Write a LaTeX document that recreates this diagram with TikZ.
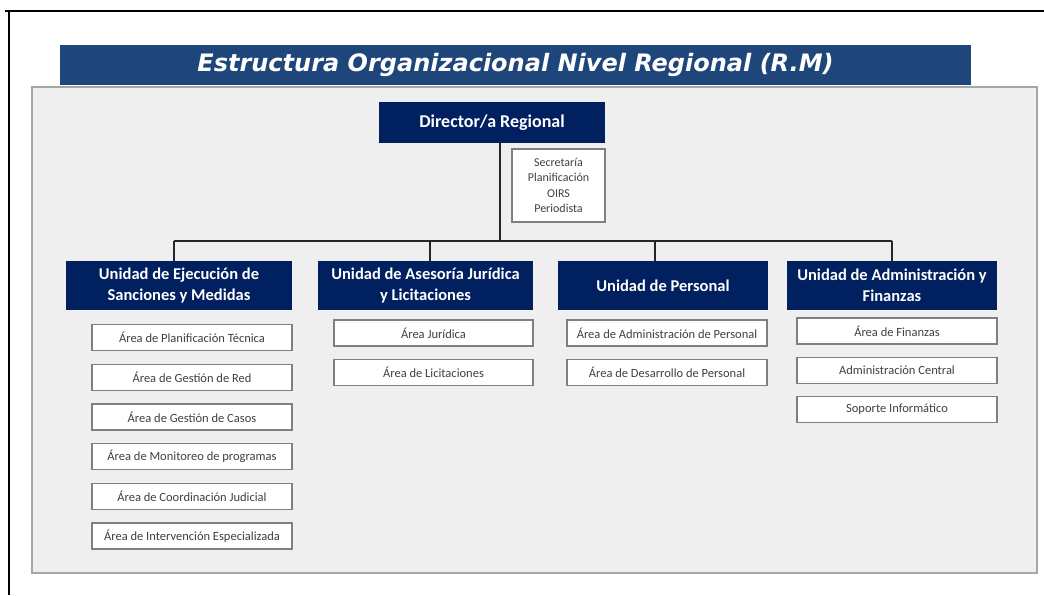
\documentclass[tikz,border=0pt]{standalone}
\usepackage{fontspec}
\setmainfont{Carlito}
\newfontfamily\titlefont{DejaVu Sans}
\usetikzlibrary{positioning}
\definecolor{azulTit}{RGB}{31,70,122}
\definecolor{azulUni}{RGB}{0,32,96}
\definecolor{grisFondo}{RGB}{239,239,239}
\definecolor{grisBorde}{RGB}{166,166,166}
\tikzset{
  Fondo/.style={draw=grisBorde, line width=2pt, fill=grisFondo, minimum width=1005pt, minimum height=486pt, inner sep=0pt},
  Titulo/.style={fill=azulTit, text=white, minimum width=911pt, minimum height=40pt, inner sep=0pt,
    font=\titlefont\bfseries\itshape\fontsize{24}{28}\selectfont},
  Jefe/.style={fill=azulUni, text=white, minimum width=226pt, minimum height=41pt, inner sep=0pt,
    font=\bfseries\fontsize{18}{21}\selectfont},
  Unidad/.style={fill=azulUni, text=white, align=center, minimum height=49pt, inner sep=0pt,
    font=\bfseries\fontsize{16.5}{21}\selectfont},
  Area/.style={draw=gray, line width=1.3pt, fill=white, text=black!75, minimum width=200pt, minimum height=26pt,
    inner sep=0pt, font=\fontsize{12.5}{14}\selectfont},
  Linea/.style={line width=2.2pt, black!85}
}

\begin{document}
\begin{tikzpicture}[x=1pt,y=-1pt]
\useasboundingbox (0,0) rectangle (1044,595);

%Marco
\draw[line width=2.5pt] (5,11) -- (1044,11);
\draw[line width=2.5pt] (9,11) -- (9,595);

%Fondo y titulo
\node[Fondo] (fondo) at (534.5,330) {};
\node[Titulo] (titulo) at (515.5,65) {Estructura Organizacional Nivel Regional (R.M)};

%Direccion
\node[Jefe] (dir) at (492,122.5) {Director/a Regional};
\node[Area, align=center, minimum width=93pt, minimum height=73pt, font=\fontsize{12}{15.5}\selectfont]
  (apoyo) at (558.5,185.5) {Secretaría\\Planificación\\OIRS\\Periodista};

%Unidades
\node[Unidad, minimum width=226pt] (u1) at (179,285.5) {Unidad de Ejecución de\\Sanciones y Medidas};
\node[Unidad, minimum width=215pt] (u2) at (425.5,285.5) {Unidad de Asesoría Jurídica\\y Licitaciones};
\node[Unidad, minimum width=210pt] (u3) at (663,285.5) {Unidad de Personal};
\node[Unidad, minimum width=210pt] (u4) at (892,285.5) {Unidad de Administración y\\Finanzas};

%Areas
\node[Area] (a11) at (192,337.5) {Área de Planificación Técnica};
\node[Area, below=12.4pt of a11] (a12) {Área de Gestión de Red};
\node[Area, below=12.4pt of a12] (a13) {Área de Gestión de Casos};
\node[Area, below=12.4pt of a13] (a14) {Área de Monitoreo de programas};
\node[Area, below=12.4pt of a14] (a15) {Área de Coordinación Judicial};
\node[Area, below=12.4pt of a15] (a16) {Área de Intervención Especializada};

\node[Area, minimum width=199pt] (a21) at (433.5,333) {Área Jurídica};
\node[Area, minimum width=199pt, below=12pt of a21] (a22) {Área de Licitaciones};

\node[Area] (a31) at (667,333) {Área de Administración de Personal};
\node[Area, below=12pt of a31] (a32) {Área de Desarrollo de Personal};

\node[Area] (a41) at (897,331) {Área de Finanzas};
\node[Area, below=12pt of a41] (a42) {Administración Central};
\node[Area, below=12pt of a42] (a43) {Soporte Informático};

%Lineas
\coordinate (tronco) at (500,241);
\coordinate (b1) at (174,241);
\coordinate (b2) at (430,241);
\coordinate (b3) at (655,241);
\coordinate (b4) at (892,241);
\draw[Linea] (dir.south -| tronco) -- (tronco);
\draw[Linea] (b1) -- (b4);
\foreach \k in {1,...,4}
  \draw[Linea] (b\k) -- (b\k |- u\k.north);

\end{tikzpicture}
\end{document}
